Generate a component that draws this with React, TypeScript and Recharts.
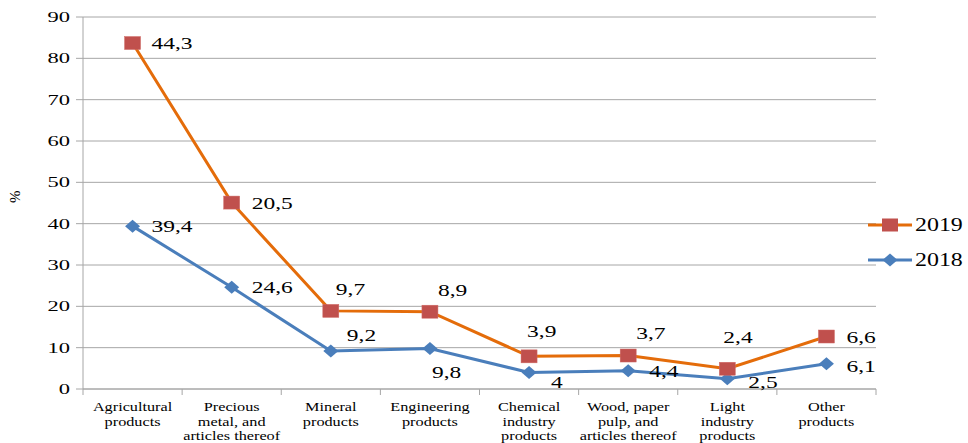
import React from 'react';
import { ComposedChart, Area, XAxis, YAxis, CartesianGrid, Legend } from 'recharts';

// Export structure by product group, %; the 2019 series is stacked on top of 2018
const CATEGORIES = [
  'Agricultural\nproducts',
  'Precious\nmetal, and\narticles thereof',
  'Mineral\nproducts',
  'Engineering\nproducts',
  'Chemical\nindustry\nproducts',
  'Wood, paper\npulp, and\narticles thereof',
  'Light\nindustry\nproducts',
  'Other\nproducts',
];
const VALUES_2018 = [39.4, 24.6, 9.2, 9.8, 4, 4.4, 2.5, 6.1];
const VALUES_2019 = [44.3, 20.5, 9.7, 8.9, 3.9, 3.7, 2.4, 6.6];
const Y_TICKS = [0, 10, 20, 30, 40, 50, 60, 70, 80, 90];

// label offsets from the marker (start of text, vertical centre)
const LABEL_POS_2018: [number, number][] = [
  [19, 0], [20, 0], [16, -16], [2, 24], [22, 10], [21, 0], [21, 3], [20, 2],
];
const LABEL_POS_2019: [number, number][] = [
  [19, 0], [20, 0], [5, -22], [8, -22], [-2, -25], [8, -23], [-4, -32], [20, 0],
];

const W = 968;
const H = 443;
const X_AXIS_H = 54;
const MARGIN = { top: 17, right: 92, bottom: 0, left: 0 };
const Y_AXIS_W = 83;
const BAND = (W - MARGIN.right - Y_AXIS_W) / CATEGORIES.length;

const FONT = "'Times New Roman', 'Liberation Serif', Tinos, 'DejaVu Serif', 'Noto Serif', FreeSerif, serif";
const ORANGE = '#E46C0A';
const RED = '#C0504D';
const BLUE = '#4A7EBB';
const GRID = '#A6A6A6';

const fmt = (v: number) => String(v).replace('.', ',');

const data = CATEGORIES.map((c, i) => ({
  name: c,
  y2018: VALUES_2018[i],
  y2019: VALUES_2019[i],
}));

function SText({ x, y, size, sx, anchor = 'start', children }: any) {
  return (
    <text
      transform={`translate(${x},${y}) scale(${sx},1)`}
      textAnchor={anchor}
      fontSize={size}
      fill="#000"
      style={{ fontFamily: FONT }}
    >
      {children}
    </text>
  );
}

function YTick({ x = 0, y = 0, payload }: any) {
  return (
    <SText x={x - 4} y={y + 5} size={15} sx={1.5} anchor="end">
      {payload?.value}
    </SText>
  );
}

function XTick({ x = 0, y = 0, payload, index }: any) {
  const lines = String(payload?.value ?? '').split('\n');
  const left = x - BAND / 2;
  const top = y - 8;
  return (
    <g>
      <line x1={left} y1={top} x2={left} y2={top + 6} stroke={GRID} />
      {index === CATEGORIES.length - 1 && (
        <line x1={x + BAND / 2} y1={top} x2={x + BAND / 2} y2={top + 6} stroke={GRID} />
      )}
      {lines.map((ln, i) => (
        <SText key={i} x={x} y={top + 22 + i * 14.5} size={13} sx={1.25} anchor="middle">
          {ln}
        </SText>
      ))}
    </g>
  );
}

function SquareDot({ cx, cy }: any) {
  if (cx == null || cy == null) return null;
  return <rect x={cx - 8} y={cy - 6.5} width={16} height={13} fill={RED} stroke="#D06A66" strokeWidth={0.5} />;
}

function DiamondDot({ cx, cy }: any) {
  if (cx == null || cy == null) return null;
  return (
    <polygon
      points={`${cx - 7.5},${cy} ${cx},${cy - 6.5} ${cx + 7.5},${cy} ${cx},${cy + 6.5}`}
      fill={BLUE}
    />
  );
}

function makeLabel(values: number[], pos: [number, number][]) {
  return (props: any) => {
    const { x, y, index } = props;
    if (x == null || y == null || index == null) return null;
    const [dx, dy] = pos[index];
    return (
      <SText key={index} x={x + dx} y={y + dy + 6} size={17} sx={1.38}>
        {fmt(values[index])}
      </SText>
    );
  };
}

function LegendBox() {
  return (
    <svg width={100} height={70} style={{ display: 'block' }}>
      <line x1={2} y1={15} x2={46} y2={15} stroke={ORANGE} strokeWidth={3} />
      <rect x={16} y={8.5} width={16} height={13} fill={RED} />
      <SText x={49} y={21} size={18} sx={1.33}>2019</SText>
      <line x1={2} y1={50} x2={46} y2={50} stroke={BLUE} strokeWidth={3} />
      <polygon points="16.5,50 24,43.5 31.5,50 24,56.5" fill={BLUE} />
      <SText x={49} y={56} size={18} sx={1.33}>2018</SText>
    </svg>
  );
}

export default function App() {
  return (
    <div style={{ position: 'absolute', left: 0, top: 0, width: W, height: H, background: '#fff' }}>
      <ComposedChart width={W} height={H} data={data} margin={MARGIN}>
        <CartesianGrid vertical={false} stroke={GRID} strokeWidth={1} />
        <XAxis
          dataKey="name"
          interval={0}
          axisLine={{ stroke: GRID }}
          tickLine={false}
          tick={<XTick />}
          height={X_AXIS_H}
          padding={{ left: BAND / 2, right: BAND / 2 }}
        />
        <YAxis
          domain={[0, 90]}
          ticks={Y_TICKS}
          interval={0}
          width={Y_AXIS_W}
          axisLine={{ stroke: GRID }}
          tickLine={{ stroke: GRID }}
          tickSize={7}
          tick={<YTick />}
          label={{
            value: '%',
            angle: -90,
            position: 'insideLeft',
            dx: 10,
            style: { fontFamily: FONT, fontSize: 15, fill: '#000' },
          }}
        />
        <Legend
          layout="horizontal"
          align="center"
          verticalAlign="middle"
          wrapperStyle={{ top: 210, left: 866, width: 100 }}
          content={() => <LegendBox />}
        />
        <Area
          type="linear"
          dataKey="y2018"
          stackId="s"
          stroke={BLUE}
          strokeWidth={3}
          fill="none"
          dot={<DiamondDot />}
          activeDot={false}
          label={makeLabel(VALUES_2018, LABEL_POS_2018)}
          isAnimationActive={false}
        />
        <Area
          type="linear"
          dataKey="y2019"
          stackId="s"
          stroke={ORANGE}
          strokeWidth={3}
          fill="none"
          dot={<SquareDot />}
          activeDot={false}
          label={makeLabel(VALUES_2019, LABEL_POS_2019)}
          isAnimationActive={false}
        />
      </ComposedChart>
    </div>
  );
}
